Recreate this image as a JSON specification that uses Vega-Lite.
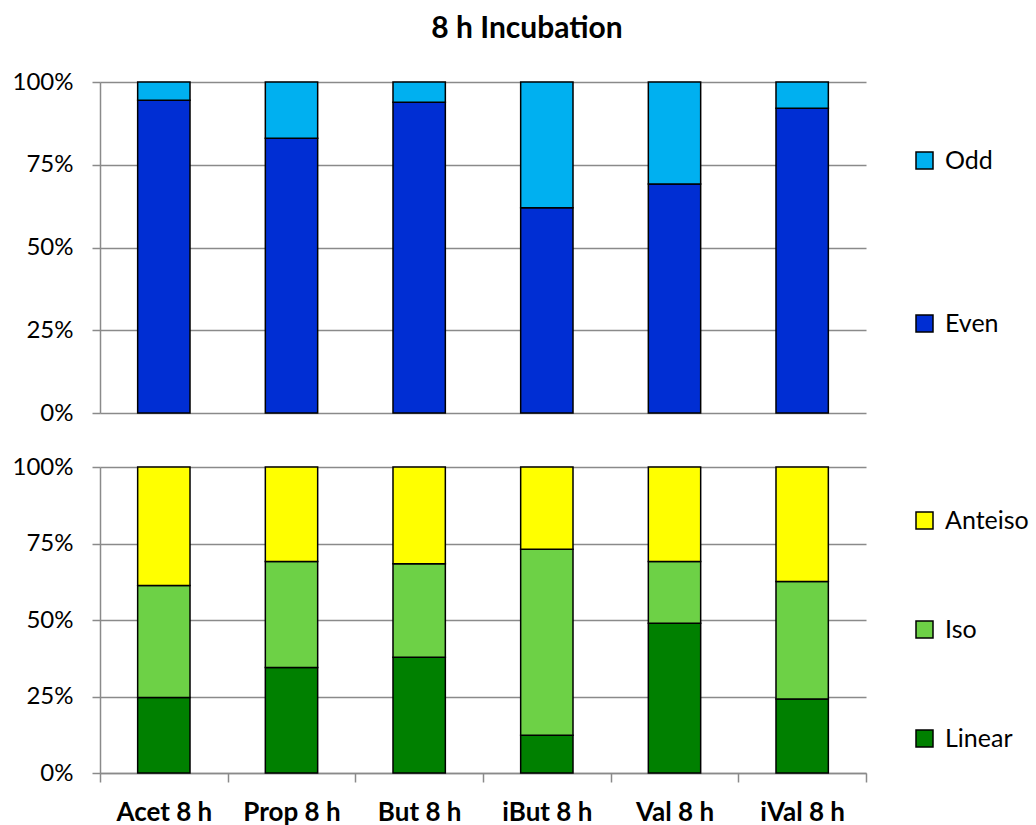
{
  "$schema": "https://vega.github.io/schema/vega-lite/v6.json",
  "background": "white",
  "padding": {"left": 12, "top": 14, "right": 0, "bottom": 0},
  "config": {
    "font": "Lato",
    "view": {"stroke": null},
    "axis": {
      "gridColor": "#8a8a8a",
      "gridWidth": 1.5,
      "domainColor": "#8a8a8a",
      "domainWidth": 1.5,
      "tickColor": "#8a8a8a",
      "tickWidth": 1.5,
      "labelFont": "Lato",
      "labelColor": "black",
      "labelFontSize": 24,
      "title": null
    },
    "legend": {
      "labelFont": "Lato",
      "labelFontSize": 25,
      "labelColor": "black",
      "symbolType": "square",
      "symbolSize": 289,
      "symbolStrokeColor": "black",
      "symbolStrokeWidth": 1.5,
      "labelOffset": 8,
      "title": null
    }
  },
  "datasets": {
    "parity": [
      {"sample": "Acet 8 h", "group": "Even", "share": 94.5},
      {"sample": "Acet 8 h", "group": "Odd", "share": 5.5},
      {"sample": "Prop 8 h", "group": "Even", "share": 83.0},
      {"sample": "Prop 8 h", "group": "Odd", "share": 17.0},
      {"sample": "But 8 h", "group": "Even", "share": 93.9},
      {"sample": "But 8 h", "group": "Odd", "share": 6.1},
      {"sample": "iBut 8 h", "group": "Even", "share": 62.0},
      {"sample": "iBut 8 h", "group": "Odd", "share": 38.0},
      {"sample": "Val 8 h", "group": "Even", "share": 69.2},
      {"sample": "Val 8 h", "group": "Odd", "share": 30.8},
      {"sample": "iVal 8 h", "group": "Even", "share": 92.1},
      {"sample": "iVal 8 h", "group": "Odd", "share": 7.9}
    ],
    "branching": [
      {"sample": "Acet 8 h", "group": "Linear", "share": 24.7},
      {"sample": "Acet 8 h", "group": "Iso", "share": 36.6},
      {"sample": "Acet 8 h", "group": "Anteiso", "share": 38.7},
      {"sample": "Prop 8 h", "group": "Linear", "share": 34.5},
      {"sample": "Prop 8 h", "group": "Iso", "share": 34.6},
      {"sample": "Prop 8 h", "group": "Anteiso", "share": 30.9},
      {"sample": "But 8 h", "group": "Linear", "share": 37.8},
      {"sample": "But 8 h", "group": "Iso", "share": 30.6},
      {"sample": "But 8 h", "group": "Anteiso", "share": 31.6},
      {"sample": "iBut 8 h", "group": "Linear", "share": 12.3},
      {"sample": "iBut 8 h", "group": "Iso", "share": 60.8},
      {"sample": "iBut 8 h", "group": "Anteiso", "share": 26.9},
      {"sample": "Val 8 h", "group": "Linear", "share": 48.9},
      {"sample": "Val 8 h", "group": "Iso", "share": 20.2},
      {"sample": "Val 8 h", "group": "Anteiso", "share": 30.9},
      {"sample": "iVal 8 h", "group": "Linear", "share": 24.2},
      {"sample": "iVal 8 h", "group": "Iso", "share": 38.4},
      {"sample": "iVal 8 h", "group": "Anteiso", "share": 37.4}
    ]
  },
  "vconcat": [
    {
      "title": {
        "text": "8 h Incubation",
        "font": "Lato",
        "fontSize": 30,
        "fontWeight": "bold",
        "color": "black",
        "anchor": "middle",
        "frame": "group",
        "dx": 44,
        "offset": 26
      },
      "width": 766,
      "height": 331,
      "data": {"name": "parity"},
      "mark": {"type": "bar", "stroke": "black", "strokeWidth": 1.5, "width": {"band": 0.41}},
      "encoding": {
        "x": {
          "field": "sample",
          "type": "nominal",
          "sort": null,
          "scale": {"paddingInner": 0, "paddingOuter": 0},
          "axis": null
        },
        "y": {
          "field": "share",
          "type": "quantitative",
          "stack": "normalize",
          "scale": {"domain": [0, 1]},
          "axis": {
            "values": [0, 0.25, 0.5, 0.75, 1],
            "format": ".0%",
            "tickSize": 8,
            "labelPadding": 19,
            "grid": true
          }
        },
        "color": {
          "field": "group",
          "type": "nominal",
          "scale": {"domain": ["Odd", "Even"], "range": ["#00b0f0", "#002ed3"]},
          "legend": {
            "orient": "none",
            "legendX": 812,
            "legendY": 66,
            "rowPadding": 137
          }
        },
        "order": {"field": "group", "sort": "ascending"}
      }
    },
    {
      "width": 766,
      "height": 306,
      "data": {"name": "branching"},
      "mark": {"type": "bar", "stroke": "black", "strokeWidth": 1.5, "width": {"band": 0.41}},
      "encoding": {
        "x": {
          "field": "sample",
          "type": "nominal",
          "sort": null,
          "scale": {"paddingInner": 0, "paddingOuter": 0},
          "axis": {
            "labelAngle": 0,
            "labelFontWeight": "bold",
            "labelFontSize": 26,
            "tickBand": "extent",
            "tickSize": 9,
            "labelPadding": 17,
            "grid": false
          }
        },
        "y": {
          "field": "share",
          "type": "quantitative",
          "stack": "normalize",
          "scale": {"domain": [0, 1]},
          "axis": {
            "values": [0, 0.25, 0.5, 0.75, 1],
            "format": ".0%",
            "tickSize": 8,
            "labelPadding": 19,
            "grid": true
          }
        },
        "color": {
          "field": "group",
          "type": "nominal",
          "scale": {"domain": ["Anteiso", "Iso", "Linear"], "range": ["#ffff00", "#6dd146", "#008000"]},
          "legend": {
            "orient": "none",
            "legendX": 812,
            "legendY": 41,
            "rowPadding": 83
          }
        },
        "order": {"field": "group", "sort": "descending"}
      }
    }
  ],
  "spacing": 30,
  "resolve": {"scale": {"color": "independent"}, "legend": {"color": "independent"}}
}
